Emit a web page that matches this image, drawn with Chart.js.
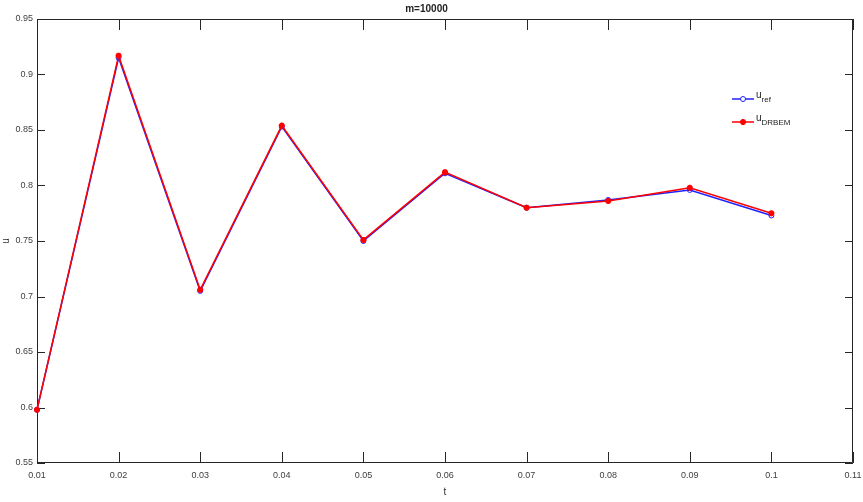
<!DOCTYPE html>
<html>
<head>
<meta charset="utf-8">
<script src="https://cdn.jsdelivr.net/npm/chart.js@4.4.1/dist/chart.umd.min.js"></script>
<style>
  html, body { margin: 0; padding: 0; background: #fff; }
  #wrap { position: relative; width: 863px; height: 502px; }
  #legend { position: absolute; left: 731px; top: 88px; font-family: "Liberation Sans Narrow", "Liberation Sans", Arial, sans-serif; font-size: 10px; color: #222; }
  .row { position: relative; height: 23px; }
  .row canvas { position: absolute; left: 0; top: 4px; }
  .row span { position: absolute; left: 25px; top: 1px; white-space: nowrap; }
  .row sub { font-size: 8px; vertical-align: -4px; }
</style>
</head>
<body>
<div id="wrap">
  <canvas id="u-chart" width="863" height="502"></canvas>
  <div id="legend">
    <div class="row"><canvas id="lg-ref" width="24" height="14"></canvas><span>u<sub>ref</sub></span></div>
    <div class="row"><canvas id="lg-drbem" width="24" height="14"></canvas><span>u<sub>DRBEM</sub></span></div>
  </div>
</div>
<script>
const tValues = [0.01, 0.02, 0.03, 0.04, 0.05, 0.06, 0.07, 0.08, 0.09, 0.1];
const uRef = [0.598, 0.915, 0.705, 0.853, 0.750, 0.811, 0.780, 0.787, 0.796, 0.773];
const uDrbem = [0.598, 0.917, 0.706, 0.854, 0.751, 0.812, 0.780, 0.786, 0.798, 0.775];
const xTicks = [0.01, 0.02, 0.03, 0.04, 0.05, 0.06, 0.07, 0.08, 0.09, 0.1, 0.11];
const yTicks = [0.55, 0.6, 0.65, 0.7, 0.75, 0.8, 0.85, 0.9, 0.95];

const fontFam = '"Liberation Sans Narrow", "Liberation Sans", Arial, sans-serif';
const axisColor = '#262626';

// box round the plot + inward ticks, like matlab
const boxTicks = {
  id: 'boxTicks',
  beforeDatasetsDraw(chart) {
    const ctx = chart.ctx;
    const a = chart.chartArea;
    const xs = chart.scales.x, ys = chart.scales.y;
    ctx.save();
    ctx.strokeStyle = axisColor;
    ctx.lineWidth = 1;
    ctx.beginPath();
    ctx.rect(a.left + 0.5, a.top + 0.5, a.right - a.left - 1, a.bottom - a.top - 1);
    xTicks.forEach(v => {
      const px = Math.round(xs.getPixelForValue(v)) + 0.5;
      ctx.moveTo(px, a.bottom); ctx.lineTo(px, a.bottom - 11);
      ctx.moveTo(px, a.top); ctx.lineTo(px, a.top + 11);
    });
    yTicks.forEach(v => {
      const py = Math.round(ys.getPixelForValue(v)) + 0.5;
      ctx.moveTo(a.left, py); ctx.lineTo(a.left + 8, py);
      ctx.moveTo(a.right, py); ctx.lineTo(a.right - 8, py);
    });
    ctx.stroke();
    ctx.restore();
  }
};

const canvasChart = document.querySelector('#u-chart');

let config = {
  type: 'line',
  data: {
    datasets: [
      {
        label: 'u_ref',
        data: tValues.map((t, i) => ({ x: t, y: uRef[i] })),
        borderColor: '#2020ff',
        backgroundColor: 'rgba(0,0,0,0)',
        borderWidth: 1.5,
        pointStyle: 'circle',
        pointRadius: 2.5,
        pointBorderWidth: 1,
        pointBorderColor: '#2020ff',
        tension: 0,
        clip: false,
        order: 2,
      },
      {
        label: 'u_DRBEM',
        data: tValues.map((t, i) => ({ x: t, y: uDrbem[i] })),
        borderColor: '#ff0000',
        backgroundColor: '#ff0000',
        borderWidth: 1.5,
        pointStyle: 'star',
        pointRadius: 3,
        pointBorderWidth: 2,
        pointBorderColor: '#ff0000',
        tension: 0,
        clip: false,
        order: 1,
      },
    ],
  },
  options: {
    responsive: false,
    animation: false,
    layout: { padding: { left: 0, right: 10, top: 0, bottom: 0 } },
    plugins: {
      legend: { display: false },
      tooltip: { enabled: false },
      title: {
        display: true,
        text: 'm=10000',
        color: '#222',
        font: { family: fontFam, size: 10, weight: 'bold' },
        padding: { top: 3, bottom: 4 },
      },
    },
    scales: {
      x: {
        type: 'linear',
        min: 0.01,
        max: 0.11,
        afterBuildTicks: s => { s.ticks = xTicks.map(v => ({ value: v })); },
        afterFit: s => { s.height = 39; s.paddingLeft = 0; s.paddingRight = 0; },
        grid: { display: true, drawOnChartArea: false, drawTicks: false },
        border: { display: false },
        ticks: {
          color: '#404040',
          font: { family: fontFam, size: 9 },
          padding: 7,
          maxRotation: 0,
          autoSkip: false,
          callback: v => String(+v.toFixed(2)),
        },
        title: {
          display: true,
          text: 't',
          color: '#333',
          font: { family: fontFam, size: 10 },
          padding: { top: 0, bottom: 4 },
        },
      },
      y: {
        type: 'linear',
        min: 0.55,
        max: 0.95,
        afterBuildTicks: s => { s.ticks = yTicks.map(v => ({ value: v })); },
        afterFit: s => { s.width = 37; s.paddingTop = 0; s.paddingBottom = 0; },
        grid: { display: true, drawOnChartArea: false, drawTicks: false },
        border: { display: false },
        ticks: {
          color: '#404040',
          font: { family: fontFam, size: 9 },
          padding: 4,
          autoSkip: false,
          callback: v => String(+v.toFixed(2)),
        },
        title: {
          display: true,
          text: 'u',
          color: '#333',
          font: { family: fontFam, size: 10 },
          padding: { top: 0, bottom: 0 },
        },
      },
    },
  },
  plugins: [boxTicks],
};

let chart = new Chart(canvasChart, config);

// legend swatches
function swatch(id, color, marker) {
  const c = document.getElementById(id).getContext('2d');
  c.strokeStyle = color;
  c.fillStyle = marker === 'star' ? color : '#fff';
  c.lineWidth = 1.5;
  c.beginPath(); c.moveTo(1, 7); c.lineTo(23, 7); c.stroke();
  c.lineWidth = marker === 'star' ? 2 : 1;
  Chart.helpers.drawPoint(c, { pointStyle: marker, radius: marker === 'star' ? 3 : 2.5, rotation: 0, borderWidth: c.lineWidth }, 12, 7);
}
swatch('lg-ref', '#2020ff', 'circle');
swatch('lg-drbem', '#ff0000', 'star');
</script>
</body>
</html>
